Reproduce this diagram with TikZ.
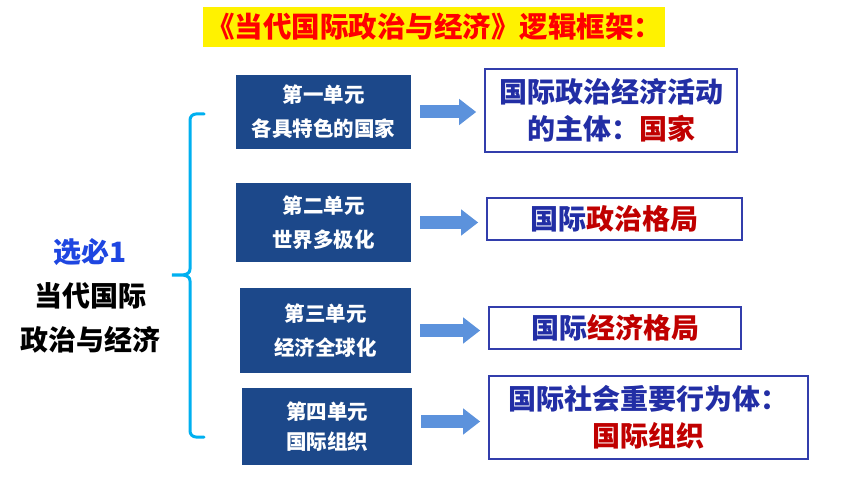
\documentclass[tikz,border=0pt]{standalone}
\usepackage{fontspec}
\setmainfont{Noto Sans CJK SC}
\usetikzlibrary{arrows.meta}
\definecolor{unitblue}{RGB}{28,72,138}
\definecolor{textblue}{RGB}{34,46,165}
\definecolor{edgeblue}{RGB}{50,62,172}
\definecolor{darkred}{RGB}{192,0,0}
\definecolor{arrowblue}{RGB}{92,146,220}
\definecolor{bracecyan}{RGB}{0,176,240}
\definecolor{pickblue}{RGB}{30,70,225}
\begin{document}
\begin{tikzpicture}[x=1pt,y=-1pt,
    unit/.style={fill=unitblue,text=white,align=center,inner sep=0pt,font=\fontsize{20.5}{34}\selectfont\bfseries},
    result/.style={draw=edgeblue,line width=1.6pt,fill=white,text=textblue,align=center,inner sep=0pt,font=\fontsize{28}{37}\selectfont\bfseries},
    fat/.style={arrowblue,line width=13pt,-{Triangle[width=25pt,length=17pt]},shorten <=9pt,shorten >=8pt}]
      \useasboundingbox[fill=white] (0,0) rectangle (860,484);
      \node[fill=yellow,text=red,minimum width=458pt,minimum height=40pt,font=\fontsize{28.5}{30}\selectfont\bfseries] (title) at (434,27) {《当代国际政治与经济》逻辑框架：};
      \node[align=center,font=\fontsize{28}{44}\selectfont\bfseries] (course) at (90,296) {\textcolor{pickblue}{选必1}\\当代国际\\政治与经济};
      \node[unit,minimum width=175pt,minimum height=74pt] (u1) at (323.5,112) {第一单元\\各具特色的国家};
      \node[unit,minimum width=175pt,minimum height=79pt] (u2) at (323.5,222.5) {第二单元\\世界多极化};
      \node[unit,minimum width=171pt,minimum height=85pt] (u3) at (325.5,330.5) {第三单元\\经济全球化};
      \node[unit,minimum width=170pt,minimum height=77pt,font=\fontsize{20.5}{30}\selectfont\bfseries] (u4) at (327,426.5) {第四单元\\国际组织};
      \node[result,minimum width=252pt,minimum height=83pt] (r1) at (611,110.5) {国际政治经济活动\\的主体：\textcolor{darkred}{国家}};
      \node[result,minimum width=255pt,minimum height=42pt] (r2) at (614.5,219) {国际\textcolor{darkred}{政治格局}};
      \node[result,minimum width=252pt,minimum height=42pt] (r3) at (615,328) {国际\textcolor{darkred}{经济格局}};
      \node[result,minimum width=319pt,minimum height=83pt] (r4) at (648.5,417.5) {国际社会重要行为体：\\\textcolor{darkred}{国际组织}};
      \begin{scope}[fat]
        \draw (u1.east) -- (u1.east -| r1.west);
        \draw (u2.east) -- (u2.east -| r2.west);
        \draw (u3.east) -- (u3.east -| r3.west);
        \draw ([yshift=5pt]u4.east) -- ([yshift=5pt]u4.east -| r4.west);
      \end{scope}
      \draw[bracecyan,line width=3pt,line cap=round] (204,114) -- (196,114) to[out=180,in=90] (190,120) -- (190,269) to[out=-90,in=0] (172,275) to[out=0,in=90] (190,281) -- (190,431) to[out=-90,in=180] (196,437) -- (204,437);
    \end{tikzpicture}
\end{document}
